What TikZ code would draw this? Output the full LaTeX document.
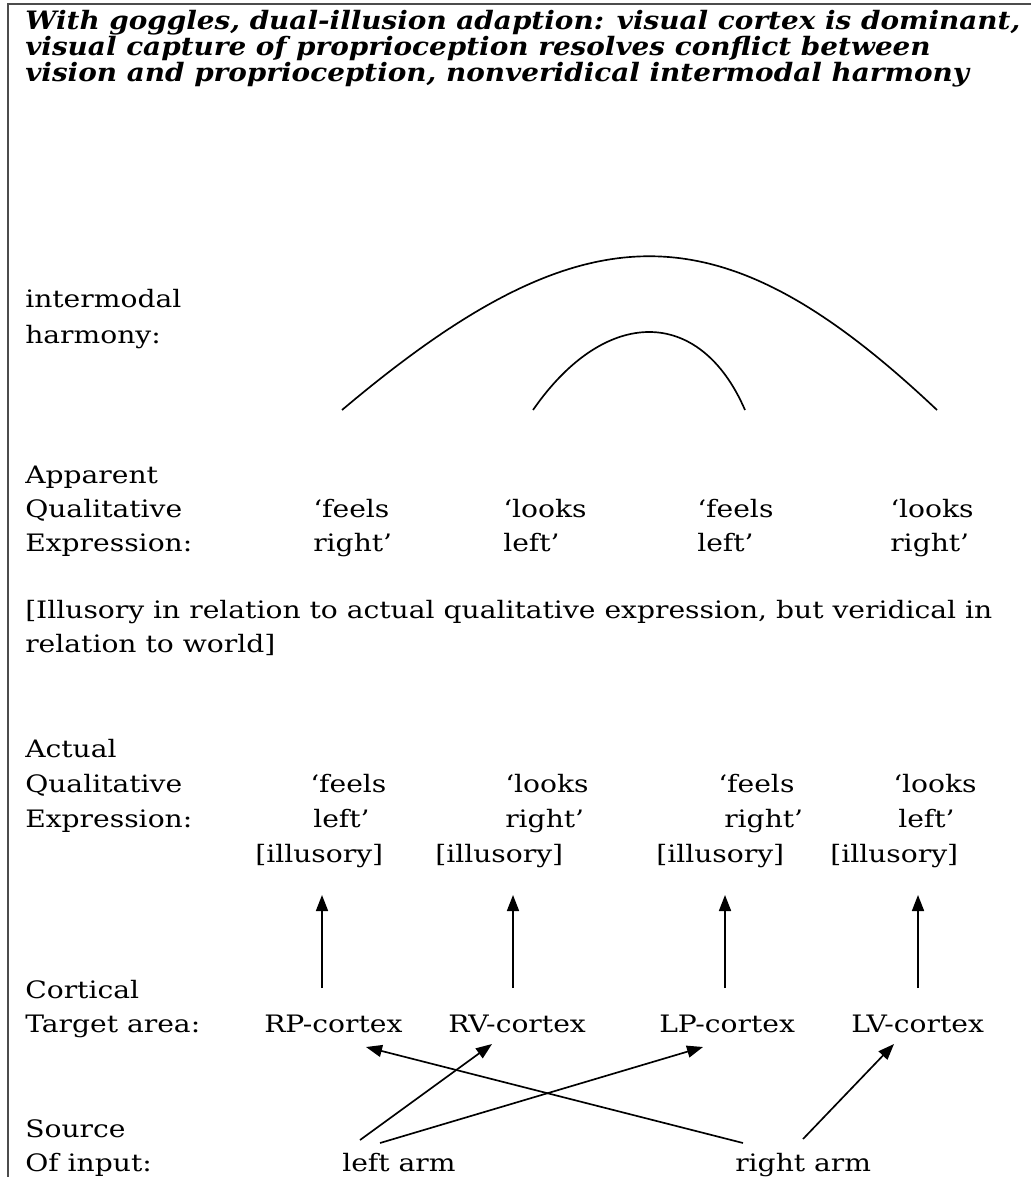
\documentclass[tikz,border=0pt]{standalone}
\usepackage{fontspec}
\usetikzlibrary{arrows.meta}
\setmainfont{DejaVu Serif}

% Calibrate the horizontal stretch of the two faces from a reference line each
\newsavebox\probebox
\sbox\probebox{\fontsize{18pt}{21pt}\selectfont [Illusory in relation to actual qualitative expression, but veridical in}
\pgfmathsetmacro\bodystretch{725.25/\the\wd\probebox}
\sbox\probebox{\fontsize{19pt}{22pt}\selectfont\bfseries\itshape With goggles, dual-illusion adaption: visual cortex is dominant,}
\pgfmathsetmacro\titlestretch{746.25/\the\wd\probebox}
\edef\setfonts{%
  \noexpand\newfontfamily\noexpand\bodyfont[FakeStretch=\bodystretch]{DejaVu Serif}%
  \noexpand\newfontfamily\noexpand\headfont[FakeStretch=\titlestretch]{DejaVu Serif}}
\setfonts

\begin{document}
\begin{tikzpicture}[x=0.75pt,y=-0.75pt,
  txt/.style={anchor=base west,inner sep=0pt,font=\bodyfont\fontsize{18pt}{21pt}\selectfont},
  head/.style={anchor=base west,inner sep=0pt,font=\headfont\fontsize{19pt}{22pt}\selectfont\bfseries\itshape},
  arr/.style={line width=1.25pt,-{Triangle[length=12pt,width=9pt]}},
  harm/.style={line width=1.25pt},
  frame/.style={line width=1.6pt,black!70}]
\useasboundingbox (0,0) rectangle (1031,1177);

% frame (top and left edges)
\draw[frame] (8,1177) -- (8,4) -- (1031,4);

% heading
\node[head] (t1) at (25,30) {With goggles, dual-illusion adaption: visual cortex is dominant,};
\node[head] (t2) at (25,56) {visual capture of proprioception resolves conflict between};
\node[head] (t3) at (25,82) {vision and proprioception, nonveridical intermodal harmony};

% row labels
\node[txt] (ih1) at (25,307) {intermodal};
\node[txt] (ih2) at (25,343) {harmony:};
\node[txt] (ap1) at (25,483) {Apparent};
\node[txt] (ap2) at (25,517) {Qualitative};
\node[txt] (ap3) at (25,551) {Expression:};
\node[txt] (nt1) at (25,618) {[Illusory in relation to actual qualitative expression, but veridical in};
\node[txt] (nt2) at (25,652) {relation to world]};
\node[txt] (ac1) at (25,757) {Actual};
\node[txt] (ac2) at (25,792) {Qualitative};
\node[txt] (ac3) at (25,827) {Expression:};
\node[txt] (ct1) at (25,998) {Cortical};
\node[txt] (ct2) at (25,1032) {Target area:};
\node[txt] (sr1) at (25,1137) {Source};
\node[txt] (sr2) at (25,1171) {Of input:};

% apparent qualitative expressions
\node[txt] (a1a) at (313,517) {‘feels};
\node[txt] (a1b) at (313,551) {right’};
\node[txt] (a2a) at (503,517) {‘looks};
\node[txt] (a2b) at (503,551) {left’};
\node[txt] (a3a) at (697,517) {‘feels};
\node[txt] (a3b) at (697,551) {left’};
\node[txt] (a4a) at (890,517) {‘looks};
\node[txt] (a4b) at (890,551) {right’};

% intermodal harmony arcs
\coordinate (h1) at (342,410);
\coordinate (h2) at (533,410);
\coordinate (h3) at (745,410);
\coordinate (h4) at (937,410);
\draw[harm] (h1) .. controls (585,205) and (720,205) .. (h4);
\draw[harm] (h2) .. controls (605,306) and (700,306) .. (h3);

% actual qualitative expressions
\node[txt] (q1a) at (310,792) {‘feels};
\node[txt] (q1b) at (313,827) {left’};
\node[txt] (il1) at (255,862) {[illusory]};
\node[txt] (q2a) at (505,792) {‘looks};
\node[txt] (q2b) at (505,827) {right’};
\node[txt] (il2) at (435,862) {[illusory]};
\node[txt] (q3a) at (718,792) {‘feels};
\node[txt] (q3b) at (724,827) {right’};
\node[txt] (il3) at (656,862) {[illusory]};
\node[txt] (q4a) at (893,792) {‘looks};
\node[txt] (q4b) at (898,827) {left’};
\node[txt] (il4) at (830,862) {[illusory]};

% cortical target areas
\node[txt] (rp) at (264,1032) {RP-cortex};
\node[txt] (rv) at (448,1032) {RV-cortex};
\node[txt] (lp) at (659,1032) {LP-cortex};
\node[txt] (lv) at (851,1032) {LV-cortex};

% sources of input
\node[txt] (la) at (342,1171) {left arm};
\node[txt] (ra) at (735,1171) {right arm};

% cortex -> qualitative expression
\draw[arr] ([shift={(58,-44)}]rp.base west) -- ([shift={(67,33)}]il1.base west);
\draw[arr] ([shift={(65,-44)}]rv.base west) -- ([shift={(78,33)}]il2.base west);
\draw[arr] ([shift={(66,-44)}]lp.base west) -- ([shift={(69,33)}]il3.base west);
\draw[arr] ([shift={(67,-44)}]lv.base west) -- ([shift={(88,33)}]il4.base west);

% input -> cortex
\draw[arr] ([shift={(18,-31)}]la.base west) -- ([shift={(44,12)}]rv.base west);
\draw[arr] ([shift={(38,-28)}]la.base west) -- ([shift={(44,15)}]lp.base west);
\draw[arr] ([shift={(8,-28)}]ra.base west) -- ([shift={(102,15)}]rp.base west);
\draw[arr] ([shift={(68,-32)}]ra.base west) -- ([shift={(43,12)}]lv.base west);
\end{tikzpicture}
\end{document}
